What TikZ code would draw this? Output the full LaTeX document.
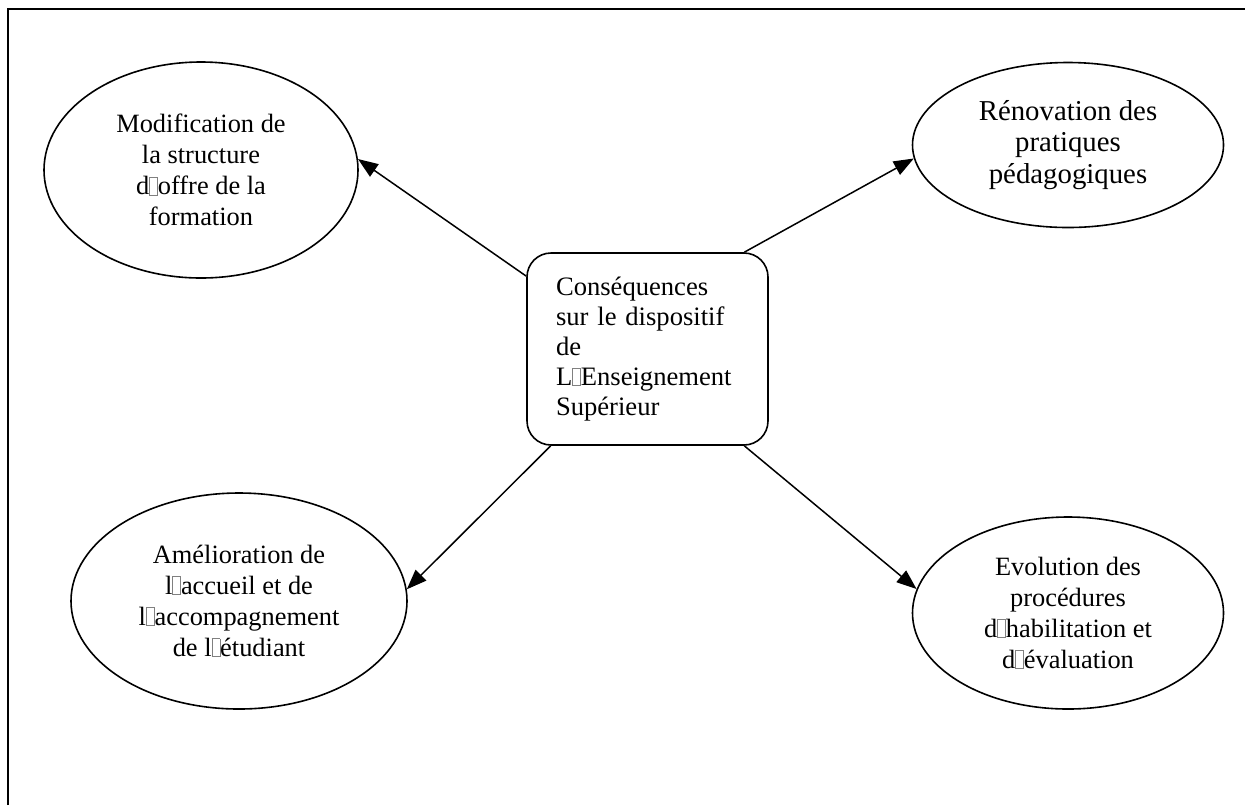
\documentclass[tikz,border=0pt]{standalone}
\usepackage{fontspec}
\setmainfont{Liberation Serif}
\usetikzlibrary{shapes, arrows.meta, positioning}

% empty glyph box, as printed in place of the apostrophe
\newcommand{\nogl}{{\color{gray}\setlength{\fboxsep}{0pt}\setlength{\fboxrule}{0.35pt}\fbox{\rule{0pt}{8.6pt}\hspace{3.6pt}}}}

\begin{document}
\begin{tikzpicture}[x=0.5pt, y=-0.5pt,
		idea/.style={ellipse, draw, line width=0.8pt, inner sep=0pt, align=center, font=\fontsize{13.2}{15.5}\selectfont},
		hub/.style={rectangle, draw, line width=0.8pt, rounded corners=12pt, minimum height=96pt, text width=91.5pt, inner xsep=14.5pt, align=left, font=\fontsize{13.3}{15}\selectfont},
		link/.style={-{Triangle[length=10pt, width=7.5pt]}, line width=0.75pt}]
			\useasboundingbox (0,0) rectangle (1245,805);
			\draw[line width=1.1pt] (8,805) -- (8,9) -- (1245,9);
			
			\node[hub] (CONS) at (647.5, 349) {Conséquences\\
	\makebox[91.5pt][s]{sur le dispositif}\\
	de\\
	L\nogl Enseignement\\
	Supérieur};
			
			\node[idea, minimum width=157pt, minimum height=108pt] (MOD) at (201, 170) {Modification de\\ la structure\\ d\nogl offre de la\\ formation};
			\node[idea, minimum width=155.5pt, minimum height=82.5pt, font=\fontsize{14.4}{15.8}\selectfont] (RENO) at (1068, 145) {Rénovation des\\ pratiques\\ pédagogiques};
			\node[idea, minimum width=168pt, minimum height=108pt] (AMEL) at (239, 601) {Amélioration de\\ l\nogl accueil et de\\ l\nogl accompagnement\\ de l\nogl étudiant};
			\node[idea, minimum width=155.5pt, minimum height=96pt] (EVOL) at (1068, 613) {Evolution des\\ procédures\\ d\nogl habilitation et\\ d\nogl évaluation};
			
			\draw[link] (CONS.149) -- (MOD.4);
			\draw[link] (CONS.45) -- (RENO.185);
			\draw[link] (CONS.225) -- (AMEL.4);
			\draw[link] (CONS.-45) -- (EVOL.171);
			
		\end{tikzpicture}
\end{document}
